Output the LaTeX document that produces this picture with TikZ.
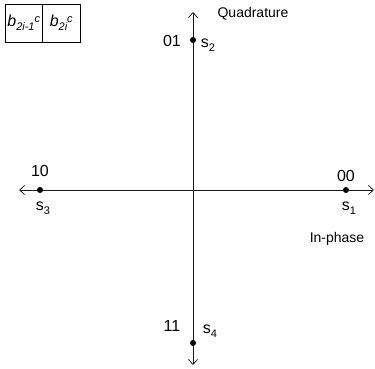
\documentclass[tikz,border=0pt]{standalone}
\usepackage{fontspec}
\setmainfont{Liberation Sans}
\usetikzlibrary{arrows.meta,positioning,calc}

\newcommand{\lowidx}[1]{\raisebox{-4pt}{\fontsize{11}{13}\selectfont #1}}
\newcommand{\highidx}[1]{\raisebox{4pt}{\fontsize{11}{13}\selectfont #1}}

\tikzset{
	axisline/.style={black!90,line width=0.75pt,{Straight Barb[length=5pt,width=9pt]}-{Straight Barb[length=5pt,width=9pt]}},
	symdot/.style={circle,fill=black,inner sep=0pt,minimum size=6pt},
	symlabel/.style={font=\fontsize{16}{18}\selectfont,inner sep=0pt},
	axislabel/.style={font=\fontsize{14}{16}\selectfont,inner sep=0pt},
	bitcell/.style={draw,line width=0.7pt,minimum width=37.5pt,minimum height=38pt,inner sep=0pt,font=\fontsize{16}{18}\selectfont\itshape}
}

\begin{document}
\begin{tikzpicture}[x=1pt,y=1pt]
		\useasboundingbox (-193,-178) rectangle (182,190);
		% axes
		\coordinate (west) at (-174,0);
		\coordinate (east) at (181,0);
		\coordinate (north) at (0,178);
		\coordinate (south) at (0,-175);
		\draw[axisline] (west)--(east);
		\draw[axisline] (south)--(north);
		% constellation points
		\node[symdot] (s1) at (153,0) {};
		\node[symdot] (s2) at (0,150) {};
		\node[symdot] (s3) at (-153,0) {};
		\node[symdot] (s4) at (0,-153) {};
		\node[symlabel] (b1) at ($(s1)+(0,14)$) {00};
		\node[symlabel] (n1) at ($(s1)+(3,-18)$) {s\lowidx{1}};
		\node[symlabel] (b2) at ($(s2)+(-21,-1)$) {01};
		\node[symlabel] (n2) at ($(s2)+(15,-5)$) {s\lowidx{2}};
		\node[symlabel] (b3) at ($(s3)+(0,19)$) {10};
		\node[symlabel] (n3) at ($(s3)+(3,-18)$) {s\lowidx{3}};
		\node[symlabel] (b4) at ($(s4)+(-21,17)$) {11};
		\node[symlabel] (n4) at ($(s4)+(17,12)$) {s\lowidx{4}};
		\node[axislabel] (quad) at (60,176) {Quadrature};
		\node[axislabel] (inph) at (144,-49) {In-phase};
		% bit legend
		\node[bitcell] (cella) at (-169.25,167) {b\lowidx{2i-1}\highidx{c}};
		\node[bitcell,right=-0.7pt of cella] (cellb) {b\lowidx{2i}\highidx{c}};
	\end{tikzpicture}
\end{document}
